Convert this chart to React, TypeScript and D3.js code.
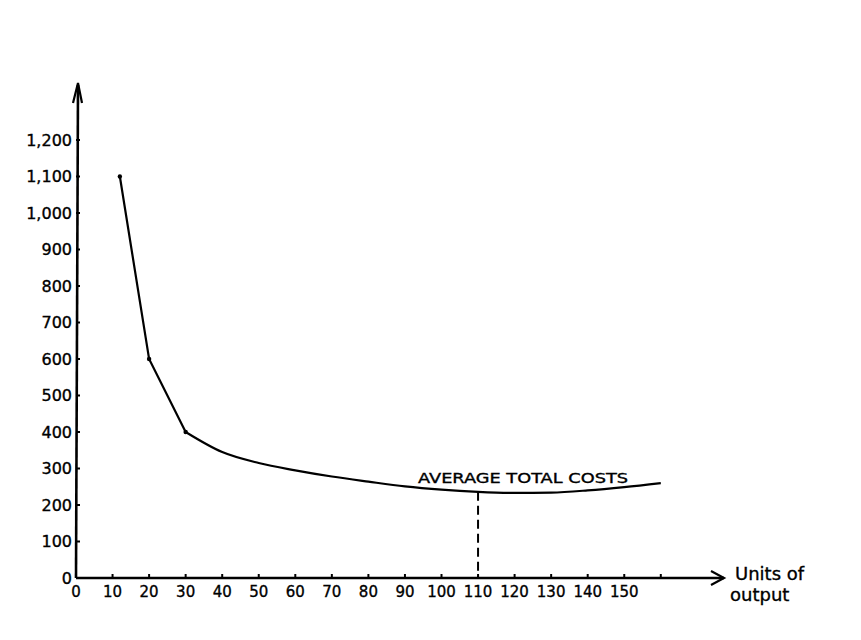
import React from "react";
import * as d3 from "d3";

const xTicks = [0, 10, 20, 30, 40, 50, 60, 70, 80, 90, 100, 110, 120, 130, 140, 150, 160];
const xTickLabels = ["0", "10", "20", "30", "40", "50", "60", "70", "80", "90", "100", "110", "120", "130", "140", "150", ""];
const yTicks = [0, 100, 200, 300, 400, 500, 600, 700, 800, 900, 1000, 1100, 1200];
const yTickLabels = ["0", "100", "200", "300", "400", "500", "600", "700", "800", "900", "1,000", "1,100", "1,200"];

// early (straight) segment
const earlyOutput = [12, 20, 30];
const earlyCost = [1100, 600, 400];
// smooth part of average total cost curve
const curveOutput = [30, 40, 50, 60, 70, 80, 90, 100, 110, 120, 130, 140, 150, 160];
const curveCost = [400, 345, 315, 295, 278, 264, 251, 242, 236, 233, 234, 240, 249, 260];

const minOutput = 110;
const curveLabel = "AVERAGE TOTAL COSTS";
const xAxisTitle = ["Units of", "output"];

export default function App() {
  const W = 861, H = 640;
  const x = d3.scaleLinear().domain([0, 160]).range([76, 76 + 160 * 3.655]);
  const y = d3.scaleLinear().domain([0, 1200]).range([578, 140]);
  const x0 = x(0), y0 = y(0);

  const early = earlyOutput.map((v, i) => [v, earlyCost[i]] as [number, number]);
  const smooth = curveOutput.map((v, i) => [v, curveCost[i]] as [number, number]);
  const lineLin = d3.line<[number, number]>().x(d => x(d[0])).y(d => y(d[1]));
  const lineSm = d3.line<[number, number]>().x(d => x(d[0])).y(d => y(d[1])).curve(d3.curveMonotoneX);

  const minY = y(curveCost[curveOutput.indexOf(minOutput)]);
  const font = "'DejaVu Sans', sans-serif";
  const axisEndX = 724;
  const axisTopY = 83;
  const txt = { fontFamily: font, fill: "#000", stroke: "#000", strokeWidth: 0.35 };

  return (
    <svg width={W} height={H} style={{ position: "absolute", left: 0, top: 0, background: "#fff" }}>
      <rect width={W} height={H} fill="#fff" />
      {/* axes */}
      <line x1={x0} y1={y0} x2={axisEndX} y2={y0} stroke="#000" strokeWidth={2.6} />
      <line x1={x0} y1={y0} x2={x0 + 2} y2={axisTopY + 2} stroke="#000" strokeWidth={2.6} />
      <path d={`M${axisEndX - 13},${y0 - 7} L${axisEndX},${y0} L${axisEndX - 13},${y0 + 7}`} fill="none" stroke="#000" strokeWidth={2.2} />
      <path d={`M${x0 - 3},${axisTopY + 20} L${x0 + 2},${axisTopY} L${x0 + 6},${axisTopY + 20}`} fill="none" stroke="#000" strokeWidth={2.2} />

      {/* x ticks */}
      {xTicks.map((t, i) => (
        <g key={"xt" + i}>
          {t > 0 && <line x1={x(t)} x2={x(t)} y1={y0} y2={y0 - 4} stroke="#000" strokeWidth={2} />}
          <text x={x(t)} y={597} textAnchor="middle" fontSize={15} {...txt}>{xTickLabels[i]}</text>
        </g>
      ))}
      {/* y ticks */}
      {yTicks.map((t, i) => (
        <g key={"yt" + i}>
          {t > 0 && <line x1={x0} x2={x0 + 4} y1={y(t)} y2={y(t)} stroke="#000" strokeWidth={2} />}
          <text x={72} y={y(t)} dy="0.36em" textAnchor="end" fontSize={16} {...txt}>{yTickLabels[i]}</text>
        </g>
      ))}

      {/* curve */}
      <path d={lineLin(early) || ""} fill="none" stroke="#000" strokeWidth={2.2} />
      <path d={lineSm(smooth) || ""} fill="none" stroke="#000" strokeWidth={2.2} />
      {early.map((d, i) => (
        <circle key={"p" + i} cx={x(d[0])} cy={y(d[1])} r={2.2} fill="#000" />
      ))}

      {/* minimum dashed line */}
      <line x1={x(minOutput)} x2={x(minOutput)} y1={minY} y2={y0} stroke="#000" strokeWidth={2} strokeDasharray="9,5" />

      <text x={418} y={483} fontSize={14} textLength={210} lengthAdjust="spacingAndGlyphs" {...txt}>{curveLabel}</text>

      <text x={735} y={580} fontSize={18} {...txt}>{xAxisTitle[0]}</text>
      <text x={730} y={601} fontSize={18} {...txt}>{xAxisTitle[1]}</text>
    </svg>
  );
}
